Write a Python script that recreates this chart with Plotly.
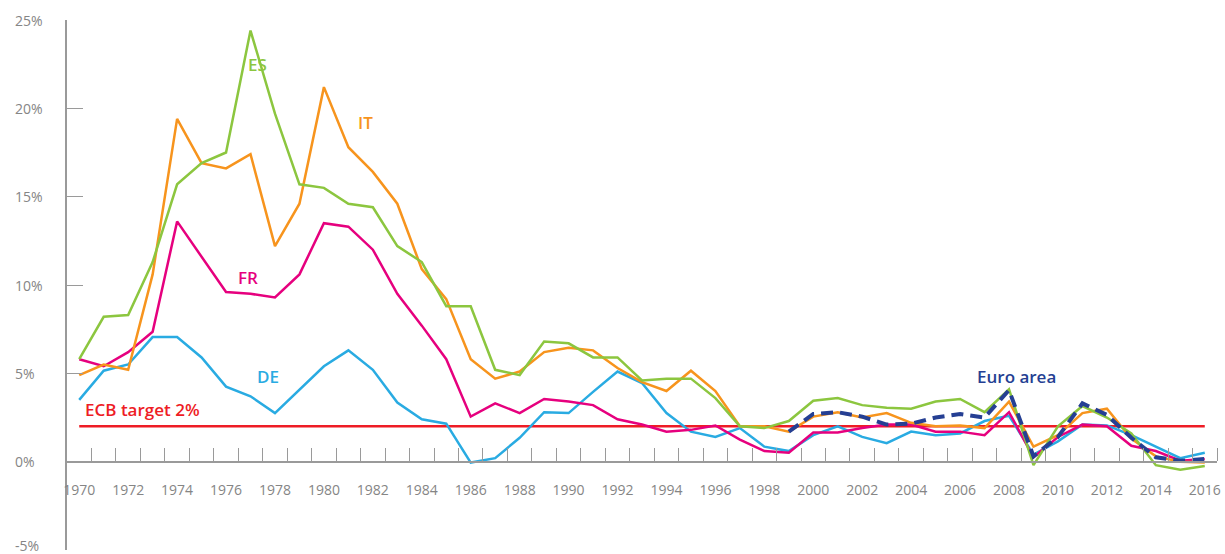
import plotly.graph_objects as go

years = list(range(1970, 2017))

es = [5.8, 8.2, 8.3, 11.3, 15.7, 16.9, 17.5, 24.4, 19.7, 15.7,
      15.5, 14.6, 14.4, 12.2, 11.3, 8.8, 8.8, 5.2, 4.9, 6.8,
      6.7, 5.9, 5.9, 4.6, 4.7, 4.7, 3.6, 2.0, 1.9, 2.3,
      3.45, 3.6, 3.2, 3.05, 3.0, 3.4, 3.55, 2.8, 4.1, -0.2,
      2.0, 3.15, 2.5, 1.6, -0.2, -0.45, -0.25]

it = [4.9, 5.5, 5.2, 10.6, 19.4, 16.9, 16.6, 17.4, 12.2, 14.6,
      21.2, 17.8, 16.4, 14.6, 10.9, 9.2, 5.8, 4.7, 5.1, 6.2,
      6.45, 6.3, 5.3, 4.5, 4.0, 5.15, 4.0, 2.0, 2.0, 1.7,
      2.55, 2.8, 2.5, 2.75, 2.2, 2.0, 2.05, 1.9, 3.4, 0.85,
      1.5, 2.75, 3.0, 1.3, 0.3, 0.0, -0.05]

fr = [5.8, 5.4, 6.2, 7.35, 13.6, 11.6, 9.6, 9.5, 9.3, 10.6,
      13.5, 13.3, 12.0, 9.5, 7.7, 5.8, 2.55, 3.3, 2.75, 3.55,
      3.4, 3.2, 2.4, 2.1, 1.7, 1.8, 2.05, 1.25, 0.6, 0.5,
      1.65, 1.65, 1.9, 2.1, 2.1, 1.7, 1.7, 1.5, 2.8, 0.25,
      1.4, 2.1, 2.0, 0.9, 0.6, 0.05, 0.15]

de = [3.5, 5.15, 5.5, 7.05, 7.05, 5.9, 4.25, 3.7, 2.75, 4.05,
      5.4, 6.3, 5.2, 3.35, 2.4, 2.15, -0.05, 0.2, 1.35, 2.8,
      2.75, 3.95, 5.1, 4.45, 2.75, 1.7, 1.4, 1.9, 0.85, 0.6,
      1.5, 2.0, 1.4, 1.05, 1.7, 1.5, 1.6, 2.3, 2.6, 0.4,
      1.15, 2.1, 2.05, 1.5, 0.85, 0.2, 0.5]

euro_years = list(range(1999, 2017))
euro = [1.7, 2.7, 2.8, 2.55, 2.1, 2.15, 2.5, 2.7, 2.5, 4.05,
        0.3, 1.4, 3.3, 2.65, 1.35, 0.25, 0.05, 0.15]

ecb_target = 2.0

x_tick_years = list(range(1970, 2017, 2))
x_tick_labels = [str(y) for y in x_tick_years]
x_minor_ticks = [y + 0.5 for y in range(1970, 2017)]
y_tick_vals = [-5, 0, 5, 10, 15, 20, 25]
y_tick_labels = ["-5%", "0%", "5%", "10%", "15%", "20%", "25%"]

C_ES = "#8cc63f"
C_IT = "#f7941d"
C_FR = "#e6007e"
C_DE = "#29abe2"
C_EA = "#253f93"
C_RED = "#ee1c25"
GRAY = "#858585"
AXIS = "#9a9a9a"
FONT = "Open Sans"

fig = go.Figure()

fig.add_trace(go.Scatter(x=years, y=[ecb_target] * len(years), mode="lines",
                         line=dict(color=C_RED, width=2.5), hoverinfo="skip"))
fig.add_trace(go.Scatter(x=years, y=de, mode="lines", name="DE",
                         line=dict(color=C_DE, width=2.5)))
fig.add_trace(go.Scatter(x=years, y=fr, mode="lines", name="FR",
                         line=dict(color=C_FR, width=2.5)))
fig.add_trace(go.Scatter(x=years, y=it, mode="lines", name="IT",
                         line=dict(color=C_IT, width=2.5)))
fig.add_trace(go.Scatter(x=years, y=es, mode="lines", name="ES",
                         line=dict(color=C_ES, width=2.5)))
fig.add_trace(go.Scatter(x=euro_years, y=euro, mode="lines", name="Euro area",
                         line=dict(color=C_EA, width=4, dash="12px,7px")))

fig.update_layout(
    width=1225, height=554,
    margin=dict(l=67, r=8, t=20, b=4),
    paper_bgcolor="white", plot_bgcolor="white",
    showlegend=False,
    font=dict(family=FONT, color=GRAY, size=14),
    xaxis=dict(
        range=[1969.5, 2016.5],
        anchor="free", position=1 / 6,
        showline=True, linecolor=AXIS, linewidth=1.5,
        showgrid=False, zeroline=False,
        tickmode="array", tickvals=x_tick_years, ticktext=x_tick_labels,
        ticks="", ticklabelstandoff=16,
        tickfont=dict(family=FONT, size=14, color=GRAY),
        minor=dict(tickmode="array", tickvals=x_minor_ticks, ticks="inside",
                   ticklen=13, tickwidth=1.3, tickcolor=AXIS, showgrid=False),
    ),
    yaxis=dict(
        range=[-5, 25], domain=[0, 1],
        showline=True, linecolor=AXIS, linewidth=1.5,
        showgrid=False, zeroline=False,
        tickmode="array", tickvals=y_tick_vals,
        ticks="inside", ticklen=16, tickwidth=1.3, tickcolor=AXIS,
        showticklabels=False,
    ),
)

for v, t in zip(y_tick_vals, y_tick_labels):
    fig.add_annotation(x=-0.047, xref="paper", y=v, yref="y", text=t,
                       showarrow=False, xanchor="left", yanchor="middle",
                       yshift=5 if v == -5 else 0,
                       font=dict(family=FONT, size=14, color=GRAY))

labels = [
    ("ES", 1977.3, 22.5, C_ES),
    ("IT", 1981.7, 19.2, C_IT),
    ("FR", 1976.9, 10.45, C_FR),
    ("DE", 1977.7, 4.8, C_DE),
    ("Euro area", 2008.3, 4.8, C_EA),
]
for t, x, y, c in labels:
    fig.add_annotation(x=x, y=y, text=t, showarrow=False,
                       xanchor="center", yanchor="middle",
                       font=dict(family=FONT, size=17, color=c, weight=600))

fig.add_annotation(x=1970.15, y=2.95, text="ECB target 2%", showarrow=False,
                   xanchor="left", yanchor="middle",
                   font=dict(family=FONT, size=17, color=C_RED, weight=600))

fig.write_html("out.html", config={"displayModeBar": False},
               post_script="document.body.style.margin='0';")
